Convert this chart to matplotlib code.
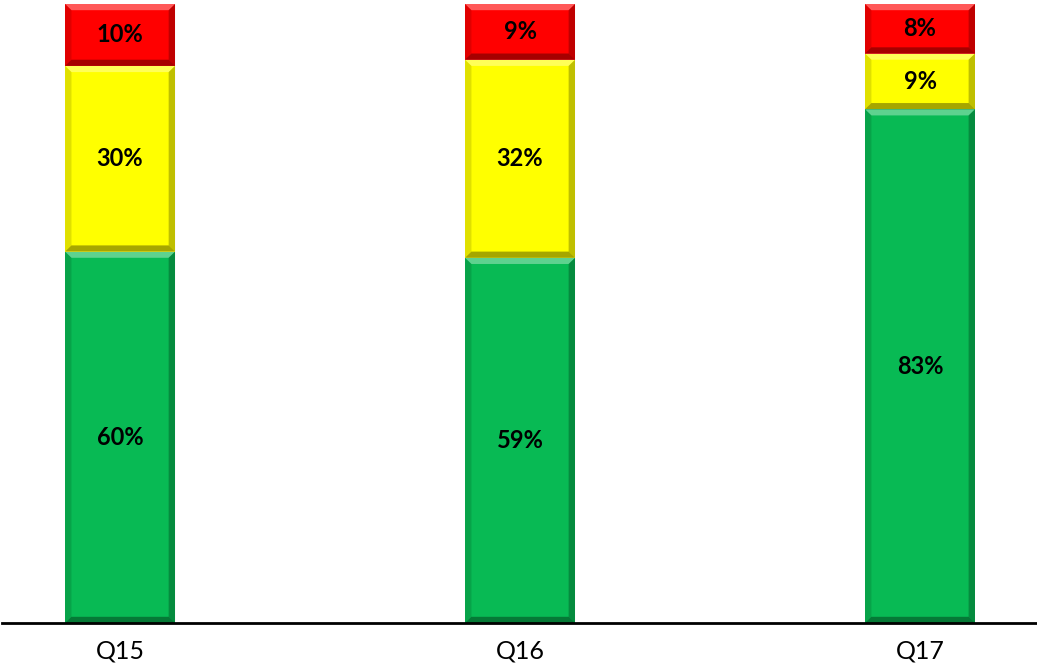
import matplotlib
matplotlib.use("Agg")
import matplotlib.pyplot as plt
from matplotlib.patches import Polygon

plt.rcParams['font.family'] = ['Lato', 'DejaVu Sans']

# data
quarters = ['Q15', 'Q16', 'Q17']
green_vals = [60, 59, 83]
yellow_vals = [30, 32, 9]
red_vals = [10, 9, 8]

series = [
    (green_vals, '#08BA54'),
    (yellow_vals, '#FFFF00'),
    (red_vals, '#FF0000'),
]

fig = plt.figure(figsize=(10.37, 6.63), dpi=100)
ax = fig.add_axes([0.002, 40 / 663, 0.998, 619 / 663])

x = list(range(len(quarters)))
width = 0.275
bottoms = [0] * len(quarters)
bevel_x = 0.016   # bevel size in data units (about 6 px)
bevel_y = 1.0


def add_bevel(rect):
    x0, y0 = rect.get_x(), rect.get_y()
    x1, y1 = x0 + rect.get_width(), y0 + rect.get_height()
    ix0, ix1 = x0 + bevel_x, x1 - bevel_x
    iy0, iy1 = y0 + bevel_y, y1 - bevel_y
    # top (light), bottom (dark), sides (slightly dark)
    ax.add_patch(Polygon([(x0, y1), (x1, y1), (ix1, iy1), (ix0, iy1)],
                         closed=True, fc='white', alpha=0.35, lw=0, zorder=3))
    ax.add_patch(Polygon([(x0, y0), (x1, y0), (ix1, iy0), (ix0, iy0)],
                         closed=True, fc='black', alpha=0.35, lw=0, zorder=3))
    ax.add_patch(Polygon([(x0, y0), (x0, y1), (ix0, iy1), (ix0, iy0)],
                         closed=True, fc='black', alpha=0.12, lw=0, zorder=3))
    ax.add_patch(Polygon([(x1, y0), (x1, y1), (ix1, iy1), (ix1, iy0)],
                         closed=True, fc='black', alpha=0.25, lw=0, zorder=3))


for vals, color in series:
    bars = ax.bar(x, vals, width, bottom=bottoms, color=color,
                  edgecolor='none', zorder=2)
    for rect, v in zip(bars, vals):
        add_bevel(rect)
        ax.text(rect.get_x() + rect.get_width() / 2,
                rect.get_y() + rect.get_height() / 2,
                f'{v}%', ha='center', va='center', fontsize=17,
                fontweight='bold', color='black', zorder=4)
    bottoms = [b + v for b, v in zip(bottoms, vals)]

ax.set_xlim(-0.295, 2.2925)
ax.set_ylim(0, 100)
ax.set_xticks(x)
ax.set_xticklabels(quarters, fontsize=18)
ax.tick_params(axis='x', length=0, pad=12)
ax.set_yticks([])
for side in ['top', 'left', 'right']:
    ax.spines[side].set_visible(False)
ax.spines['bottom'].set_linewidth(2)
ax.spines['bottom'].set_zorder(5)
ax.patch.set_visible(False)

fig.savefig('out.png', dpi=100)
